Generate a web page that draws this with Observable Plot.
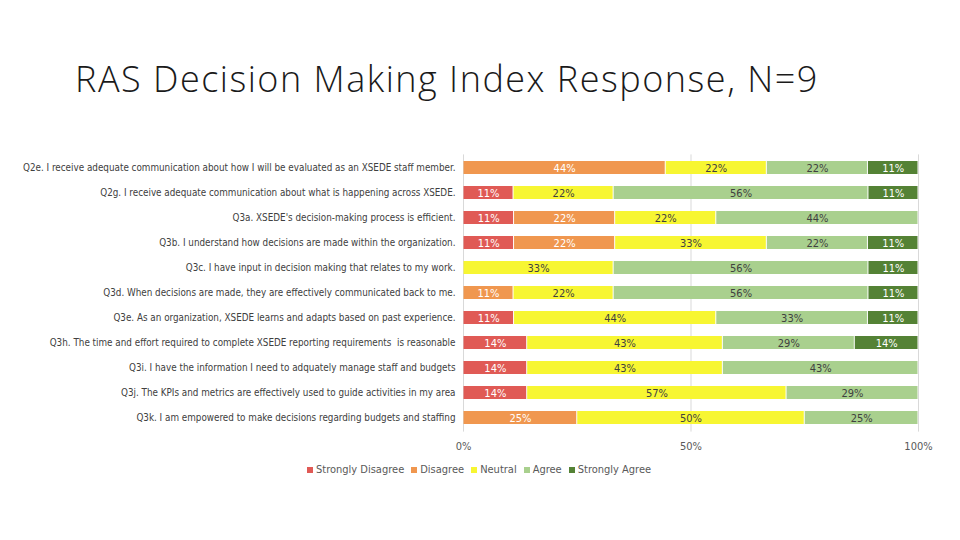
<!DOCTYPE html>
<html>
<head>
<meta charset="utf-8">
<script src="https://cdn.jsdelivr.net/npm/d3@7"></script>
<script src="https://cdn.jsdelivr.net/npm/@observablehq/plot@0.6"></script>
<style>
  body { margin: 0; background: #fff; width: 960px; height: 540px; overflow: hidden; position: relative; font-family: "Liberation Sans Narrow", "DejaVu Sans Condensed", "Liberation Sans", sans-serif; }
  #title { position: absolute; left: 75px; top: 55px; font-family: "Open Sans", "Lato", sans-serif; font-weight: 300; font-size: 36px; line-height: 48px; color: #1a1a1a; white-space: nowrap; letter-spacing: 1.5px; }
  #chart { position: absolute; left: 0; top: 140px; }
  #legend { position: absolute; left: 307px; top: 463px; font-size: 11px; color: #595959; display: flex; gap: 7px; }
  #legend span.item { display: inline-flex; align-items: center; white-space: nowrap; }
  #legend span.sw { display: inline-block; width: 6px; height: 6px; margin-right: 3px; }
</style>
</head>
<body>
<div id="title">RAS Decision Making Index Response, N=9</div>
<div id="chart"></div>
<div id="legend"></div>
<script>
const questions = [
  "Q2e. I receive adequate communication about how I will be evaluated as an XSEDE staff member.",
  "Q2g. I receive adequate communication about what is happening across XSEDE.",
  "Q3a. XSEDE's decision-making process is efficient.",
  "Q3b. I understand how decisions are made within the organization.",
  "Q3c. I have input in decision making that relates to my work.",
  "Q3d. When decisions are made, they are effectively communicated back to me.",
  "Q3e. As an organization, XSEDE learns and adapts based on past experience.",
  "Q3h. The time and effort required to complete XSEDE reporting requirements  is reasonable",
  "Q3i. I have the information I need to adquately manage staff and budgets",
  "Q3j. The KPIs and metrics are effectively used to guide activities in my area",
  "Q3k. I am empowered to make decisions regarding budgets and staffing"
];
const categories = ["Strongly Disagree", "Disagree", "Neutral", "Agree", "Strongly Agree"];
const colors = ["#e05a55", "#f0974f", "#f7f632", "#a9d08e", "#548235"];
const labelColors = ["#ffffff", "#ffffff", "#404040", "#404040", "#ffffff"];

const stronglyDisagree = [0, 11, 11, 11, 0, 0, 11, 14, 14, 14, 0];
const disagree         = [44, 0, 22, 22, 0, 11, 0, 0, 0, 0, 25];
const neutral          = [22, 22, 22, 33, 33, 22, 44, 43, 43, 57, 50];
const agree            = [22, 56, 44, 22, 56, 56, 33, 29, 43, 29, 25];
const stronglyAgree    = [11, 11, 0, 11, 11, 11, 11, 14, 0, 0, 0];

const xTicks = [0, 0.5, 1];
const xTickLabels = ["0%", "50%", "100%"];

const series = [stronglyDisagree, disagree, neutral, agree, stronglyAgree];
const data = [];
questions.forEach((q, i) => {
  categories.forEach((c, j) => {
    const v = series[j][i];
    if (v > 0) data.push({q, cat: c, value: v, ci: j});
  });
});

const stackOpts = {x: "value", y: "q", z: "cat", order: categories, offset: "normalize"};
const fmt = d => xTickLabels[xTicks.indexOf(d)];

const chart = Plot.plot({
  width: 960,
  height: 320,
  marginLeft: 463,
  marginRight: 42,
  marginTop: 14.4,
  marginBottom: 28.4,
  style: {fontFamily: '"Liberation Sans Narrow", "DejaVu Sans Condensed", "Liberation Sans", sans-serif', fontSize: "10px", color: "#404040", background: "white"},
  x: {domain: [0, 1], ticks: xTicks, tickFormat: fmt, tickSize: 0, tickPadding: 10, label: null},
  y: {domain: questions, paddingInner: 0.47, paddingOuter: 0.235, tickSize: 0, tickPadding: 8, label: null},
  color: {domain: categories, range: colors},
  marks: [
    Plot.ruleX(xTicks, {stroke: "#d9d9d9", strokeWidth: 1}),
    Plot.barX(data, Plot.stackX({...stackOpts, fill: "cat", insetLeft: 0.5, insetRight: 0.5})),
    Plot.text(data, Plot.stackX({...stackOpts, text: d => d.value + "%", fill: d => labelColors[d.ci], fontSize: 11})),
    Plot.axisY({tickSize: 0, tickPadding: 8, fontSize: 9.8, fill: "#404040"}),
    Plot.axisX({ticks: xTicks, tickFormat: fmt, tickSize: 0, tickPadding: 10, fontSize: 11, fill: "#595959"})
  ]
});
document.getElementById("chart").appendChild(chart);

const legend = document.getElementById("legend");
categories.forEach((c, j) => {
  const item = document.createElement("span");
  item.className = "item";
  item.innerHTML = `<span class="sw" style="background:${colors[j]}"></span>${c}`;
  legend.appendChild(item);
});
</script>
</body>
</html>
